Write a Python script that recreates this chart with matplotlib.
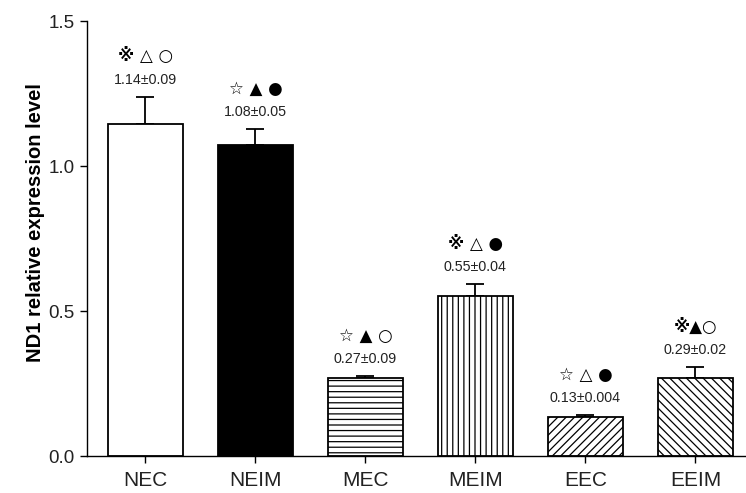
import matplotlib.pyplot as plt
import numpy as np

groups = ['NEC', 'NEIM', 'MEC', 'MEIM', 'EEC', 'EEIM']
means = [1.145, 1.072, 0.268, 0.552, 0.134, 0.269]
errs = [0.095, 0.056, 0.008, 0.041, 0.007, 0.038]
labels = ['1.14±0.09', '1.08±0.05', '0.27±0.09', '0.55±0.04', '0.13±0.004', '0.29±0.02']
marks = ['※ △ ○', '☆ ▲ ●', '☆ ▲ ○', '※ △ ●', '☆ △ ●', '※▲○']
fills = ['white', 'black', 'white', 'white', 'white', 'white']
hatches = [None, None, '---', '|||', '////', '\\\\\\\\']

plt.rcParams['hatch.linewidth'] = 0.9
fig = plt.figure(figsize=(7.46, 4.93), dpi=100)
ax = fig.add_axes([0.1166, 0.075, 0.8834, 0.882])

x = np.arange(len(groups))
for i in range(len(groups)):
    ax.bar(x[i], means[i], width=0.685, color=fills[i], edgecolor='black',
           linewidth=1.3, hatch=hatches[i], zorder=2)
ax.errorbar(x, means, yerr=[np.zeros(len(errs)), errs], fmt='none',
            ecolor='black', elinewidth=1.3, capsize=6.5, capthick=1.3, zorder=1)

for i in range(len(groups)):
    top = means[i] + errs[i]
    ax.annotate(labels[i], (x[i], top), xytext=(0, 12), textcoords='offset points',
                ha='center', va='center', fontsize=10.3, color='#222222',
                family='Liberation Sans')
    ax.annotate(marks[i], (x[i], top), xytext=(0, 29), textcoords='offset points',
                ha='center', va='center', fontsize=12, fontweight='bold',
                family='DejaVu Sans')

ax.set_xlim(-0.53, 5.46)
ax.set_ylim(0, 1.5)
ax.set_yticks([0.0, 0.5, 1.0, 1.5])
ax.set_yticklabels(['0.0', '0.5', '1.0', '1.5'])
ax.set_xticks(x)
ax.set_xticklabels(groups)
ax.spines['top'].set_visible(False)
ax.spines['right'].set_visible(False)
ax.spines['left'].set_linewidth(1.0)
ax.spines['bottom'].set_linewidth(1.0)
ax.tick_params(axis='both', direction='out', length=5, width=1.0,
               labelcolor='#222222')
ax.tick_params(axis='y', pad=4, labelsize=13.5)
ax.tick_params(axis='x', pad=6, labelsize=15)
for t in ax.get_xticklabels() + ax.get_yticklabels():
    t.set_family('Liberation Sans')
ax.set_ylabel('ND1 relative expression level', fontsize=14.5, fontweight='bold',
              family='Liberation Sans')
ax.yaxis.set_label_coords(-0.064, 0.536)

fig.savefig('out.png', dpi=100)
